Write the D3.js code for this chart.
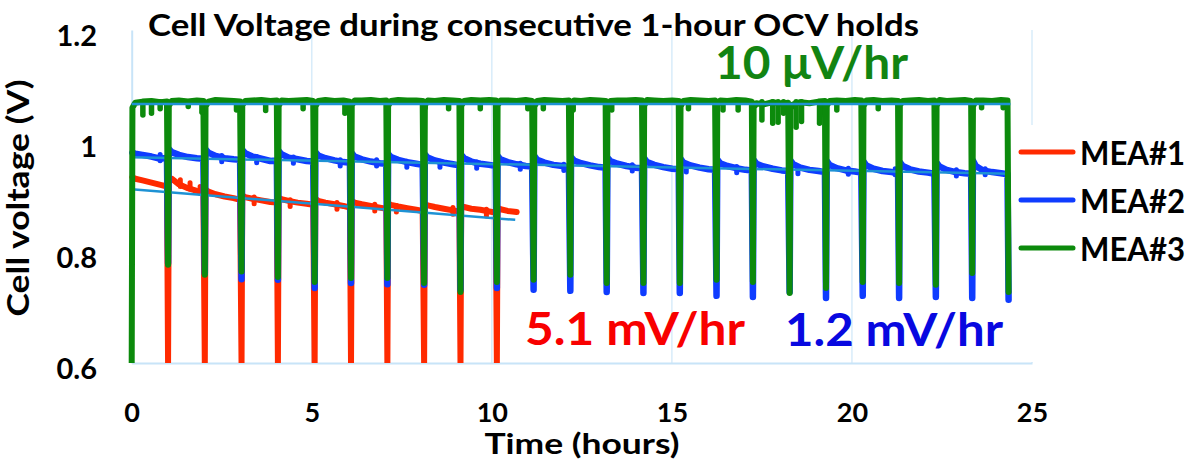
<!DOCTYPE html>
<html><head><meta charset="utf-8">
<script src="https://cdn.jsdelivr.net/npm/d3@7"></script>
<style>
body{margin:0;background:#fff}
svg{display:block}
text{font-family:Lato,'Open Sans',sans-serif;font-weight:700}
</style>
</head><body>
<svg id="chart" width="1192" height="462"></svg>
<script>
// ---------------- data ----------------
const xTicks = [0, 5, 10, 15, 20, 25];
const yTicks = [0.6, 0.8, 1.0, 1.2];
const yTickLabels = ["0.6", "0.8", "1", "1.2"];
const xGrid = [5, 10, 15, 20, 25];

const seriesNames = ["MEA#1", "MEA#2", "MEA#3"];
const seriesColors = ["#ff2a00", "#0f3cff", "#0c8a0c"];

// times (hours) of the start of each OCV hold (polarisation spikes in between)
const spikeTimes = [0, 1.01, 2.03, 3.05, 4.06, 5.08, 6.09, 7.10, 8.12, 9.13, 10.14, 11.16,
  12.18, 13.19, 14.21, 15.22, 16.24, 17.25, 18.27, 19.28, 20.30, 21.31, 22.33, 23.34, 24.35];
// sampling offsets (hours) inside each OCV hold
const cycleOffsets = [0.02, 0.1, 0.3, 0.55, 0.8, 0.98];

// minimum voltage reached at each spike (null = no spike)
const mea1Min = [null, 0.6, 0.6, 0.6, 0.6, 0.6, 0.6, 0.6, 0.6, 0.6, 0.6];
const mea2Min = [null, 0.780, 0.762, 0.751, 0.750, 0.735, 0.744, 0.742, 0.741, 0.732, 0.735, 0.732,
  0.730, 0.728, 0.726, 0.726, 0.721, 0.719, 0.728, 0.717, 0.721, 0.717, 0.719, 0.717, 0.714];
const mea3Min = [0.6, 0.777, 0.759, 0.765, 0.755, 0.746, 0.753, 0.753, 0.744, 0.728, 0.746, 0.750,
  0.759, 0.744, 0.744, 0.744, 0.750, 0.746, 0.726, 0.735, 0.746, 0.744, 0.741, 0.762, 0.728];

// OCV values during each hold
const mea1Ocv = [
  [0.935, 0.932, 0.929, 0.925, 0.921, 0.918],
  [0.933, 0.932, 0.922, 0.915, 0.910, 0.907],
  [0.913, 0.909, 0.904, 0.900, 0.897, 0.894],
  [0.902, 0.899, 0.896, 0.893, 0.890, 0.889],
  [0.898, 0.895, 0.892, 0.889, 0.887, 0.885],
  [0.896, 0.892, 0.889, 0.886, 0.883, 0.880],
  [0.892, 0.889, 0.886, 0.883, 0.880, 0.878],
  [0.887, 0.885, 0.882, 0.879, 0.876, 0.874],
  [0.886, 0.884, 0.881, 0.878, 0.875, 0.873],
  [0.883, 0.881, 0.878, 0.876, 0.873, 0.871],
  [0.880, 0.877, 0.874, 0.872]
];
const mea2Ocv = [
  [0.979, 0.977, 0.975, 0.972, 0.968, 0.970],
  [0.986, 0.980, 0.975, 0.971, 0.969, 0.968],
  [0.985, 0.979, 0.973, 0.969, 0.967, 0.966],
  [0.984, 0.978, 0.972, 0.968, 0.964, 0.965],
  [0.982, 0.976, 0.970, 0.967, 0.964, 0.963],
  [0.980, 0.974, 0.969, 0.965, 0.962, 0.961],
  [0.978, 0.972, 0.967, 0.963, 0.960, 0.959],
  [0.977, 0.971, 0.966, 0.962, 0.959, 0.957],
  [0.976, 0.970, 0.965, 0.961, 0.958, 0.956],
  [0.975, 0.969, 0.963, 0.959, 0.957, 0.955],
  [0.973, 0.967, 0.962, 0.958, 0.955, 0.954],
  [0.973, 0.966, 0.961, 0.957, 0.955, 0.953],
  [0.971, 0.965, 0.960, 0.956, 0.953, 0.952],
  [0.970, 0.964, 0.959, 0.955, 0.952, 0.951],
  [0.969, 0.962, 0.957, 0.953, 0.950, 0.949],
  [0.968, 0.961, 0.956, 0.952, 0.949, 0.948],
  [0.967, 0.960, 0.955, 0.951, 0.948, 0.947],
  [0.966, 0.959, 0.954, 0.950, 0.947, 0.946],
  [0.965, 0.958, 0.952, 0.948, 0.946, 0.944],
  [0.964, 0.957, 0.951, 0.947, 0.945, 0.943],
  [0.963, 0.956, 0.950, 0.946, 0.944, 0.942],
  [0.962, 0.955, 0.949, 0.945, 0.943, 0.941],
  [0.961, 0.954, 0.948, 0.944, 0.942, 0.941],
  [0.965, 0.955, 0.947, 0.944, 0.942, 0.940]
];
const mea3Ocv = [
  [1.060, 1.069, 1.071, 1.072, 1.070, 1.071],
  [1.063, 1.072, 1.073, 1.071, 1.073, 1.072],
  [1.062, 1.071, 1.074, 1.073, 1.072, 1.071],
  [1.064, 1.072, 1.073, 1.074, 1.072, 1.073],
  [1.063, 1.073, 1.072, 1.073, 1.074, 1.072],
  [1.062, 1.072, 1.074, 1.072, 1.073, 1.071],
  [1.064, 1.073, 1.073, 1.074, 1.072, 1.073],
  [1.063, 1.072, 1.074, 1.073, 1.073, 1.072],
  [1.064, 1.073, 1.072, 1.074, 1.073, 1.072],
  [1.063, 1.072, 1.074, 1.073, 1.074, 1.073],
  [1.064, 1.073, 1.073, 1.072, 1.074, 1.072],
  [1.062, 1.072, 1.074, 1.073, 1.072, 1.073],
  [1.063, 1.073, 1.072, 1.074, 1.073, 1.072],
  [1.064, 1.072, 1.073, 1.073, 1.074, 1.073],
  [1.063, 1.074, 1.073, 1.072, 1.073, 1.072],
  [1.062, 1.072, 1.074, 1.073, 1.072, 1.073],
  [1.064, 1.073, 1.072, 1.074, 1.073, 1.071],
  [1.060, 1.068, 1.066, 1.070, 1.067, 1.069],
  [1.058, 1.066, 1.070, 1.068, 1.071, 1.072],
  [1.063, 1.072, 1.073, 1.072, 1.074, 1.073],
  [1.062, 1.073, 1.074, 1.072, 1.073, 1.072],
  [1.064, 1.072, 1.073, 1.074, 1.072, 1.073],
  [1.063, 1.074, 1.072, 1.073, 1.074, 1.072],
  [1.062, 1.073, 1.073, 1.072, 1.074, 1.073]
];
// short voltage drops (glitches) of MEA#3 during OCV
const mea3GlitchT = [0.31, 0.55, 0.79, 1.57, 1.95, 2.91, 3.72, 4.76, 5.92, 8.15, 8.8, 9.68, 11.0, 11.43,
  12.26, 13.33, 15.46, 16.42, 16.84, 17.5, 17.8, 17.95, 18.1, 18.45, 18.6, 19.1, 19.58, 20.73, 22.3, 23.6, 24.2];
const mea3GlitchV = [1.047, 1.050, 1.058, 1.062, 1.052, 1.056, 1.055, 1.058, 1.050, 1.060, 1.058, 1.058, 1.058, 1.058,
  1.056, 1.056, 1.058, 1.056, 1.056, 1.038, 1.032, 1.034, 1.050, 1.025, 1.035, 1.032, 1.056, 1.058, 1.058, 1.060, 1.060];
// small drops of MEA#2 during OCV (lowest voltage reached)
const mea2GlitchT = [0.79, 2.5, 3.47, 4.49, 5.79, 6.8, 7.64, 8.56, 9.58, 10.79, 12.0, 13.9, 15.4, 16.8, 18.5, 19.9, 21.2, 22.9, 23.7];
const mea2GlitchV = [0.9645, 0.9628, 0.961, 0.960, 0.955, 0.955, 0.9526, 0.9526, 0.951, 0.949, 0.947, 0.946, 0.944, 0.943, 0.941, 0.940, 0.939, 0.937, 0.939];
// small upward bumps of MEA#1 (highest voltage reached)
const mea1BumpT = [1.35, 1.62, 1.9, 3.4, 4.4, 5.7, 6.75, 7.35, 8.92, 9.85];
const mea1BumpV = [0.930, 0.925, 0.918, 0.899, 0.894, 0.889, 0.886, 0.884, 0.880, 0.877];

// linear fits
const fit1T = [0, 10.65], fit1V = [0.913, 0.858];
const fit2T = [0, 24.4],  fit2V = [0.9706, 0.9410];
const fit3T = [0, 24.4],  fit3V = [1.0668, 1.0666];

const rateLabels = ["5.1 mV/hr", "1.2 mV/hr", "10 \u03bcV/hr"];

// ---------------- drawing ----------------
const svg = d3.select("#chart");
const x = d3.scaleLinear().domain([0, 25]).range([131.7, 1032]);
const y = d3.scaleLinear().domain([0.6, 1.2]).range([363, 30]);

svg.append("defs").append("clipPath").attr("id", "plotclip")
  .append("rect").attr("x", 120).attr("y", 20).attr("width", 1000).attr("height", 343);

// grid
svg.append("g").selectAll("line").data(xGrid).join("line")
  .attr("x1", d => x(d)).attr("x2", d => x(d)).attr("y1", y(1.2)).attr("y2", y(0.6))
  .attr("stroke", "#d8ecfa").attr("stroke-width", 1.5);

// axes
const gx = svg.append("g").attr("transform", `translate(0,${y(0.6)})`)
  .call(d3.axisBottom(x).tickValues(xTicks).tickSize(0));
gx.select(".domain").attr("stroke", "#c8e4f8").attr("stroke-width", 2);
gx.selectAll("text").attr("y", 59).attr("dy", 0).attr("font-size", 27)
  .attr("fill", "#000").style("font-family", "Lato").style("font-weight", 700);

const gy = svg.append("g").attr("transform", `translate(${x(0)},0)`)
  .call(d3.axisLeft(y).tickValues(yTicks).tickFormat((d, i) => yTickLabels[i]).tickSize(0));
gy.select(".domain").attr("stroke", "#c8e4f8").attr("stroke-width", 2);
gy.selectAll("text").attr("x", -34.7).attr("dy", 15).attr("font-size", 29)
  .attr("fill", "#000").style("font-family", "Lato").style("font-weight", 700);

// series builder
function buildSeries(ocv, mins) {
  const pts = [];
  ocv.forEach((vals, n) => {
    if (mins[n] != null) pts.push([spikeTimes[n], mins[n]]);
    vals.forEach((v, k) => pts.push([spikeTimes[n] + cycleOffsets[k], v]));
  });
  const last = ocv.length;
  if (mins[last] != null) pts.push([spikeTimes[last], mins[last]]);
  return pts;
}
const line = d3.line().x(d => x(d[0])).y(d => y(d[1]));
const plot = svg.append("g").attr("clip-path", "url(#plotclip)");

function drawTrace(pts, color, w) {
  plot.append("path").datum(pts).attr("d", line).attr("fill", "none")
    .attr("stroke", color).attr("stroke-width", w)
    .attr("stroke-linejoin", "round").attr("stroke-linecap", "round");
}
function drawFit(ts, vs) {
  plot.append("path").datum(ts.map((t, i) => [t, vs[i]])).attr("d", line)
    .attr("fill", "none").attr("stroke", "#1e92d4").attr("stroke-width", 2.5);
}
function drawTicks(ts, vs, len, color, w) {
  plot.append("g").selectAll("line").data(ts).join("line")
    .attr("x1", d => x(d)).attr("x2", d => x(d))
    .attr("y1", (d, i) => y(vs[i] + len)).attr("y2", (d, i) => y(vs[i]))
    .attr("stroke", color).attr("stroke-width", w).attr("stroke-linecap", "round");
}

drawTrace(buildSeries(mea1Ocv, mea1Min), seriesColors[0], 6);
drawTicks(mea1BumpT, mea1BumpV, -0.012, seriesColors[0], 5);
drawTrace(buildSeries(mea2Ocv, mea2Min), seriesColors[1], 6.5);
drawTicks(mea2GlitchT, mea2GlitchV, 0.011, seriesColors[1], 5);
drawFit(fit1T, fit1V);
drawFit(fit2T, fit2V);
drawTrace(buildSeries(mea3Ocv, mea3Min), seriesColors[2], 6);
// glitches of MEA#3 (drawn from the OCV level down to the lowest value)
plot.append("g").selectAll("line").data(mea3GlitchT).join("line")
  .attr("x1", d => x(d)).attr("x2", d => x(d))
  .attr("y1", d => y(fit3V[0] + 0.004)).attr("y2", (d, i) => y(mea3GlitchV[i]))
  .attr("stroke", seriesColors[2]).attr("stroke-width", 5.5).attr("stroke-linecap", "round");
drawFit(fit3T, fit3V);

// legend
svg.append("rect").attr("x", 1013).attr("y", 125).attr("width", 179).attr("height", 237).attr("fill", "#fff");
const leg = svg.append("g").selectAll("g").data(seriesNames).join("g")
  .attr("transform", (d, i) => `translate(0,${152 + i * 48})`);
leg.append("line").attr("x1", 1021).attr("x2", 1073).attr("y1", 0).attr("y2", 0)
  .attr("stroke", (d, i) => seriesColors[i]).attr("stroke-width", 5).attr("stroke-linecap", "round");
leg.append("text").attr("x", 1080).attr("y", 13).attr("font-size", 32)
  .attr("textLength", 105).attr("lengthAdjust", "spacingAndGlyphs").text(d => d);

// title and axis titles
svg.append("text").attr("x", 148).attr("y", 36).attr("font-size", 30)
  .attr("textLength", 771).attr("lengthAdjust", "spacingAndGlyphs")
  .text("Cell Voltage during consecutive 1-hour OCV holds");
svg.append("text").attr("x", 582).attr("y", 454).attr("text-anchor", "middle").attr("font-size", 29)
  .attr("textLength", 195).attr("lengthAdjust", "spacingAndGlyphs").text("Time (hours)");
svg.append("text").attr("transform", "translate(29,198) rotate(-90)").attr("text-anchor", "middle")
  .attr("font-size", 30).attr("textLength", 237).attr("lengthAdjust", "spacingAndGlyphs")
  .text("Cell voltage (V)");

// rate annotations
svg.append("text").attr("x", 525).attr("y", 345).attr("font-size", 45).attr("fill", "#f80000")
  .attr("textLength", 220).attr("lengthAdjust", "spacingAndGlyphs").text(rateLabels[0]);
svg.append("text").attr("x", 785).attr("y", 346).attr("font-size", 45).attr("fill", "#0808e0")
  .attr("textLength", 218).attr("lengthAdjust", "spacingAndGlyphs").text(rateLabels[1]);
svg.append("text").attr("x", 715).attr("y", 79).attr("font-size", 45).attr("fill", "#128412")
  .attr("textLength", 193).attr("lengthAdjust", "spacingAndGlyphs").text(rateLabels[2]);
</script>
</body></html>
